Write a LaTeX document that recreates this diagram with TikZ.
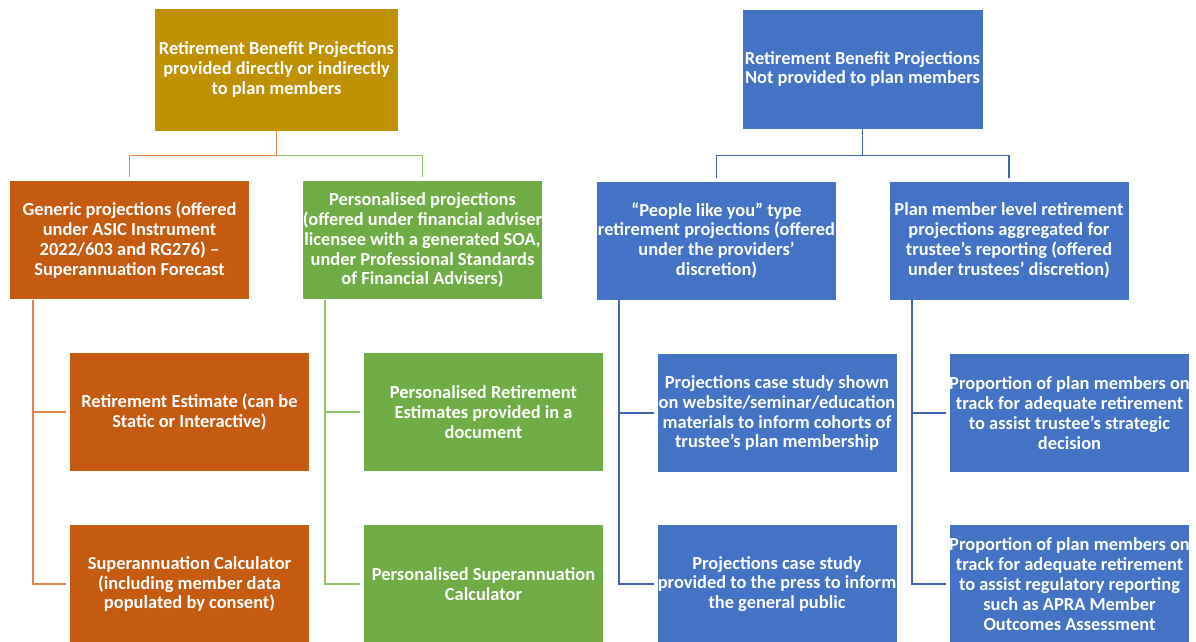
\documentclass[tikz,border=0pt]{standalone}
\usepackage{fontspec}
\setmainfont{Carlito}
\usepackage{tikz}
\usetikzlibrary{calc}
\definecolor{gold}{HTML}{BF9000}
\definecolor{rust}{HTML}{C55A11}
\definecolor{leaf}{HTML}{70AD47}
\definecolor{sea}{HTML}{4472C4}
\definecolor{rustline}{HTML}{E8824A}
\definecolor{leafline}{HTML}{8FC46B}
\definecolor{sealine}{HTML}{3F66AE}
\begin{document}
\begin{tikzpicture}[x=0.025cm, y=-0.025cm, semithick,
            box/.style={draw=white, line width=0.5pt, text=white, align=center, inner sep=0pt,
                minimum width=6cm, minimum height=2.975cm,
                font=\bfseries\fontsize{13.1pt}{14.17pt}\selectfont},
            link/.style={line width=1pt, shorten >=2pt}]
            \useasboundingbox (0, 0) rectangle (1196, 641);
            \clip (0, 0) rectangle (1196, 641);
            \node[box, fill=gold, minimum width=6.1cm, minimum height=3.075cm] (0) at (276.5, 69.5) {Retirement Benefit Projections\\provided directly or indirectly\\to plan members};
            \node[box, fill=sea, minimum width=6.025cm, minimum height=3cm] (1) at (862.5, 69) {Retirement Benefit Projections\\Not provided to plan members};
            \node[box, fill=rust] (00) at (129.5, 240) {Generic projections (offered\\under ASIC Instrument\\2022/603 and RG276) –\\Superannuation Forecast};
            \node[box, fill=leaf] (01) at (422.5, 240) {Personalised projections\\(offered under financial adviser\\licensee with a generated SOA,\\under Professional Standards\\of Financial Advisers)};
            \node[box, fill=sea] (10) at (716.5, 240.5) {“People like you” type\\retirement projections (offered\\under the providers’\\discretion)};
            \node[box, fill=sea] (11) at (1009, 240.5) {Plan member level retirement\\projections aggregated for\\trustee’s reporting (offered\\under trustees’ discretion)};
            \node[box, fill=rust] (000) at (189.5, 412) {Retirement Estimate (can be\\Static or Interactive)};
            \node[box, fill=rust] (001) at (189.5, 584) {Superannuation Calculator\\(including member data\\populated by consent)};
            \node[box, fill=leaf] (010) at (483.5, 412) {Personalised Retirement\\Estimates provided in a\\document};
            \node[box, fill=leaf] (011) at (483.5, 584) {Personalised Superannuation\\Calculator};
            \node[box, fill=sea] (100) at (777, 413) {Projections case study shown\\on website/seminar/education\\materials to inform cohorts of\\trustee’s plan membership};
            \node[box, fill=sea] (101) at (777, 584) {Projections case study\\provided to the press to inform\\the general public};
            \node[box, fill=sea] (110) at (1069.5, 413) {Proportion of plan members on\\track for adequate retirement\\to assist trustee’s strategic\\decision};
            \node[box, fill=sea] (111) at (1069.5, 584) {Proportion of plan members on\\track for adequate retirement\\to assist regulatory reporting\\such as APRA Member\\Outcomes Assessment};
            \coordinate (j0) at ($(0.south)+(0, 24)$);
            \coordinate (j1) at ($(1.south)+(0, 26)$);
            \coordinate (t00) at ($(00.south west)+(24, 0)$);
            \coordinate (t01) at ($(01.south west)+(23, 0)$);
            \coordinate (t10) at ($(10.south west)+(23, 0)$);
            \coordinate (t11) at ($(11.south west)+(23.5, 0)$);
            \draw[link, rustline] (0.south) -- (j0) -| (00.north);
            \draw[link, leafline] (j0) -| (01.north);
            \draw[link, sealine] (1.south) -- (j1) -| (10.north);
            \draw[link, sealine] (j1) -| (11.north);
            \draw[link, rustline] (t00) |- (000.west);
            \draw[link, rustline] (t00) |- (001.west);
            \draw[link, leafline] (t01) |- (010.west);
            \draw[link, leafline] (t01) |- (011.west);
            \draw[link, sealine] (t10) |- (100.west);
            \draw[link, sealine] (t10) |- (101.west);
            \draw[link, sealine] (t11) |- (110.west);
            \draw[link, sealine] (t11) |- (111.west);
        \end{tikzpicture}
\end{document}
